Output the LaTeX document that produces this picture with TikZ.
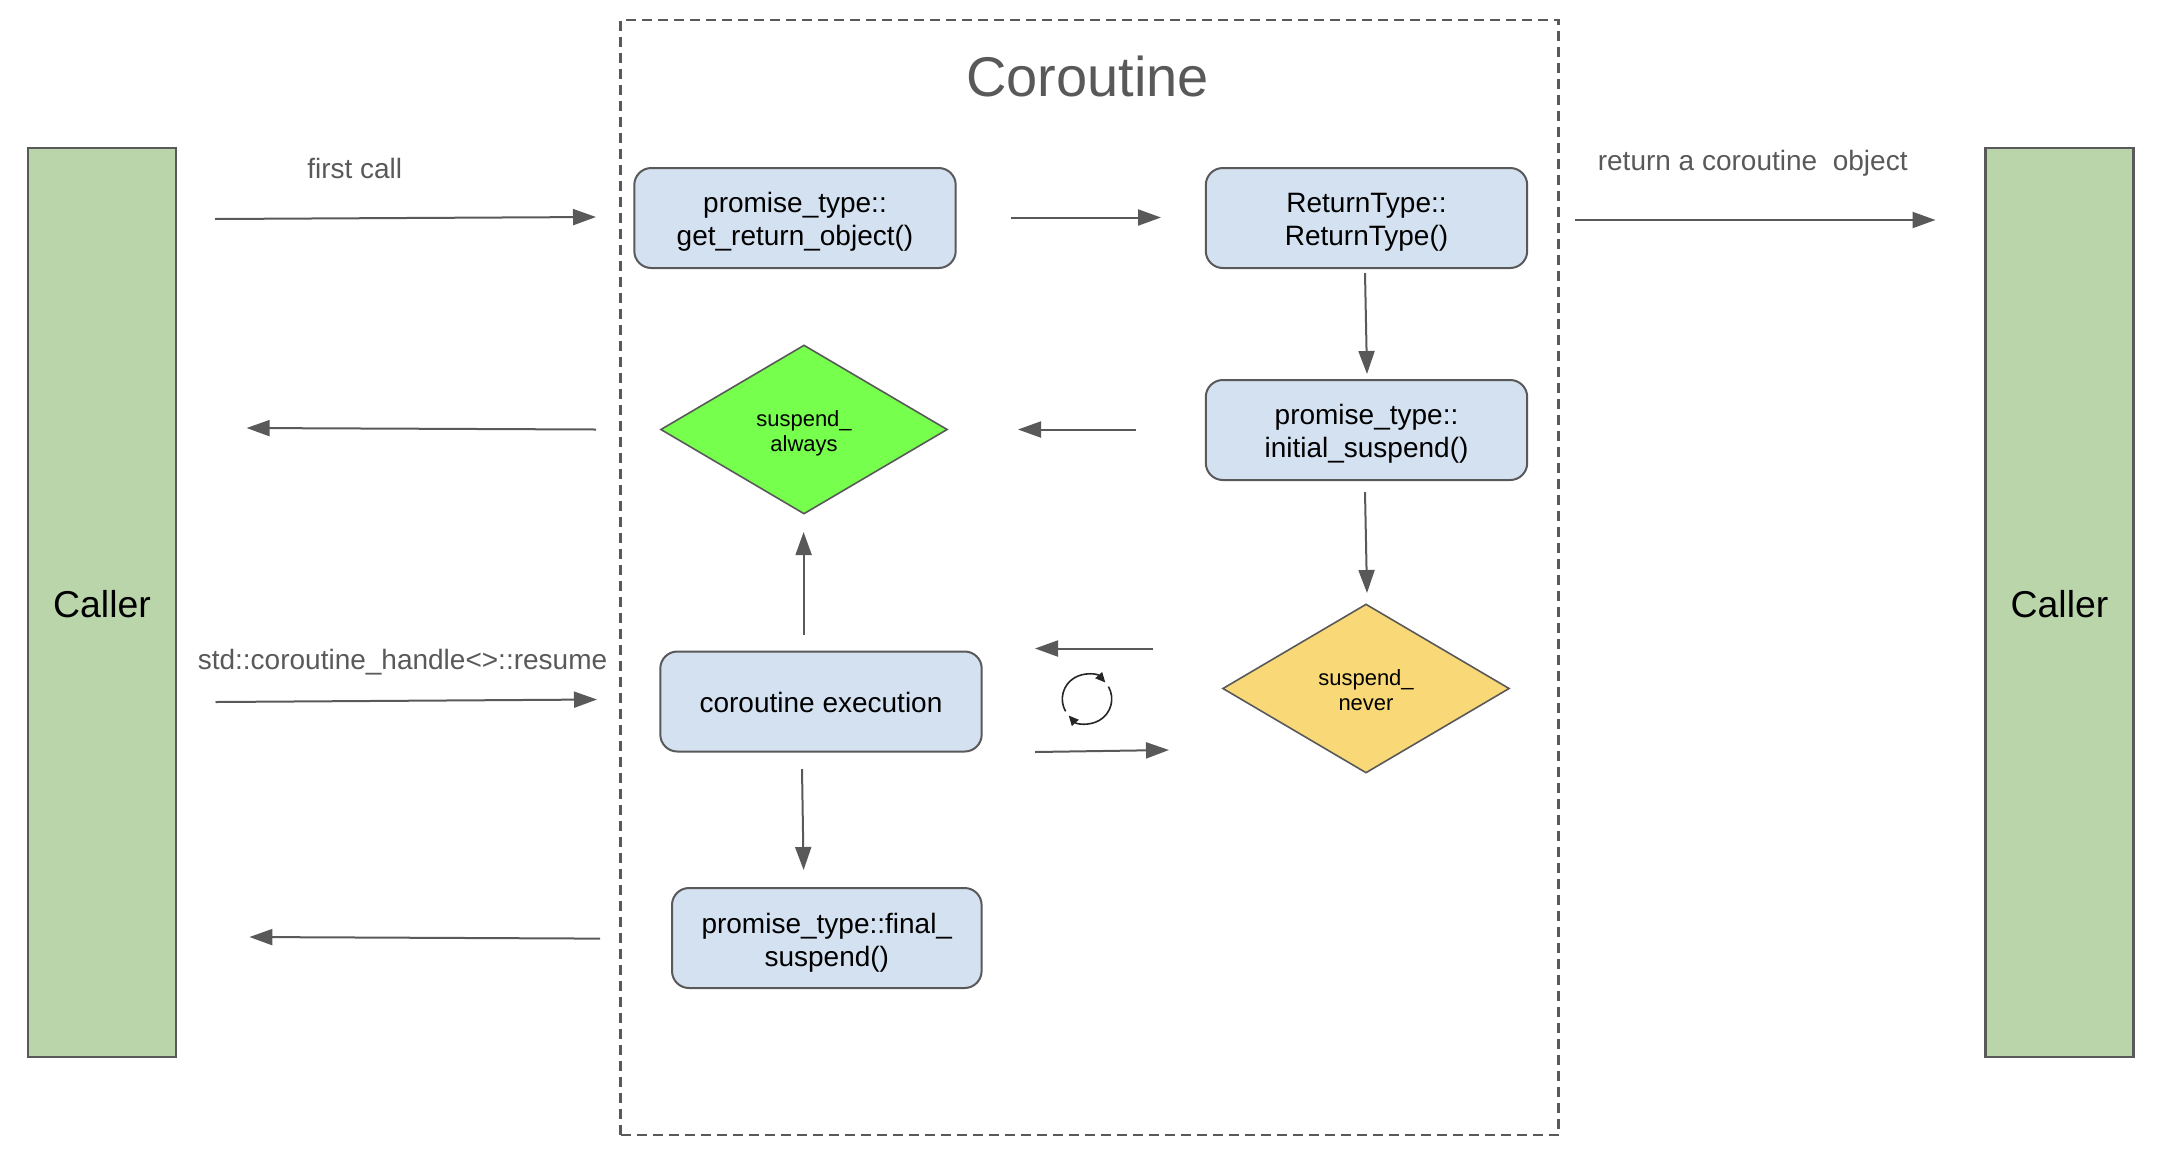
\documentclass[tikz,border=0pt]{standalone}
\usepackage{fontspec}
\setmainfont{Liberation Sans}
\usetikzlibrary{arrows.meta,shapes.geometric}
\definecolor{ink}{HTML}{595959}
\definecolor{boxblue}{HTML}{D4E1F0}
\definecolor{callergreen}{HTML}{BAD5AA}
\definecolor{brightgreen}{HTML}{76FF4D}
\definecolor{softyellow}{HTML}{F8D877}
\newcommand{\lowered}[2]{\raisebox{-#1}[\height][\depth]{\begin{tabular}{@{}c@{}}#2\end{tabular}}}
\tikzset{
  conn/.style={draw=ink,line width=1pt,-{Triangle[length=11.5pt,width=8pt]}},
  callerbox/.style={draw=ink,fill=callergreen,line width=1.2pt,minimum width=74pt,minimum height=454.5pt,inner sep=0pt,font=\fontsize{18.7}{22}\selectfont},
  stepbox/.style={draw=ink,fill=boxblue,line width=1pt,rounded corners=8.5pt,minimum width=160.7pt,minimum height=50pt,inner sep=0pt,font=\fontsize{14}{16.7}\selectfont},
  choice/.style={diamond,draw=ink,line width=0.8pt,minimum width=143.4pt,minimum height=84.5pt,inner sep=0pt,aspect=1.69,font=\fontsize{11}{12.6}\selectfont},
  note/.style={text=ink,inner sep=0pt,font=\fontsize{14}{17}\selectfont},
  loopline/.style={draw=black!85,line width=0.8pt,-{Triangle[length=5pt,width=4.5pt]}}
}
\begin{document}
\begin{tikzpicture}[x=0.5pt,y=-0.5pt]
\useasboundingbox (0,0) rectangle (2172,1152);
% frame
\node[draw=ink,line width=1.1pt,dash pattern=on 5pt off 3pt,minimum width=469pt,minimum height=557.5pt,inner sep=0pt] (frame) at (1089.5,577.5) {};
\node[text=ink,inner sep=0pt,font=\fontsize{28}{32}\selectfont] (title) at (1087.6,76) {Coroutine};
% callers
\node[callerbox] (callerL) at (102,602.5) {\lowered{3.1pt}{Caller}};
\node[callerbox] (callerR) at (2059.5,602.5) {\lowered{3.1pt}{Caller}};
% steps
\node[stepbox] (getobj) at (795,218) {\lowered{2.1pt}{promise\_type::\\get\_return\_object()}};
\node[stepbox] (rettype) at (1366.5,218) {\lowered{2.1pt}{ReturnType::\\ReturnType()}};
\node[stepbox] (initsusp) at (1366.5,430) {\lowered{2.1pt}{promise\_type::\\initial\_suspend()}};
\node[stepbox] (exec) at (821,701.5) {\lowered{2.1pt}{coroutine execution}};
\node[stepbox,minimum width=154.8pt] (finalsusp) at (826.8,938) {\lowered{2.8pt}{promise\_type::final\_\\suspend()}};
\node[choice,fill=brightgreen] (always) at (804,429.5) {\lowered{2.3pt}{suspend\_\\always}};
\node[choice,fill=softyellow] (never) at (1366,688.5) {\lowered{2.2pt}{suspend\_\\never}};
% labels
\node[note] (lfirst) at (354.7,168.7) {first call};
\node[note] (lreturn) at (1752.7,162.8) {return a coroutine\ \ object};
\node[note] (lresume) at (402.5,661.8) {std::coroutine\_handle<>::resume};
% connector ends
\coordinate (a1) at (215,219); \coordinate (a2) at (596,217);
\coordinate (b1) at (1011,217.5); \coordinate (b2) at (1161,217.5);
\coordinate (c1) at (1575,220); \coordinate (c2) at (1935.5,220);
\coordinate (d1) at (1365,273); \coordinate (d2) at (1367,374);
\coordinate (e1) at (1136,429.5); \coordinate (e2) at (1018,429.5);
\coordinate (f1) at (596,429.5); \coordinate (f2) at (246.6,428);
\coordinate (g1) at (1365,492); \coordinate (g2) at (1367,593);
\coordinate (h1) at (803.6,634.5); \coordinate (h2) at (803.6,532);
\coordinate (i1) at (1153,648.5); \coordinate (i2) at (1035,648.5);
\coordinate (j1) at (1035,752); \coordinate (j2) at (1169,750);
\coordinate (k1) at (215.5,702); \coordinate (k2) at (597,699.5);
\coordinate (l1) at (802,769); \coordinate (l2) at (803.6,870);
\coordinate (m1) at (600,938.6); \coordinate (m2) at (249.4,937);
\foreach \s/\t in {a1/a2,b1/b2,c1/c2,d1/d2,e1/e2,f1/f2,g1/g2,h1/h2,i1/i2,j1/j2,k1/k2,l1/l2,m1/m2}
  \draw[conn] (\s) -- (\t);
% cycle icon
\coordinate (cyc) at (1087,699);
\coordinate (cycA) at ([shift={(-21.4,12.4)}]cyc);
\coordinate (cycB) at ([shift={(21.4,-12.4)}]cyc);
\draw[loopline] (cycA) arc[start angle=210,end angle=42,radius=12.35pt];
\draw[loopline] (cycB) arc[start angle=30,end angle=-138,radius=12.35pt];
\end{tikzpicture}
\end{document}
